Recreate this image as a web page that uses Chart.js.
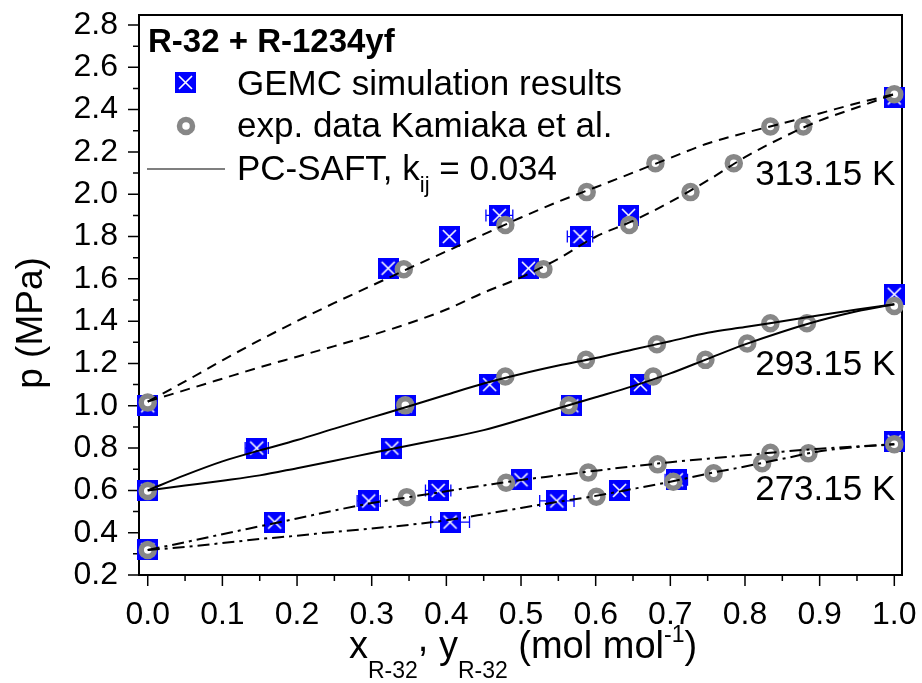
<!DOCTYPE html>
<html>
<head>
<meta charset="utf-8">
<script src="https://cdn.jsdelivr.net/npm/chart.js@4.4.0/dist/chart.umd.min.js"></script>
<style>
  html, body { margin: 0; padding: 0; background: #fff; }
  canvas { display: block; }
</style>
</head>
<body>
<canvas id="vleChart" width="922" height="683"></canvas>
<script>
/* ===== DATA ===== */
// composition grid of the PC-SAFT curves (mol/mol R-32)
const composition = [0, 0.05, 0.1, 0.15, 0.2, 0.25, 0.3, 0.35, 0.4, 0.45, 0.5,
                     0.55, 0.6, 0.65, 0.7, 0.75, 0.8, 0.85, 0.9, 0.95, 1.0];

// PC-SAFT, kij = 0.034 (MPa)
const bubble313 = [1.02, 1.115, 1.215, 1.31, 1.40, 1.486, 1.568, 1.65, 1.73, 1.81, 1.89,
                   1.965, 2.033, 2.102, 2.172, 2.24, 2.29, 2.335, 2.382, 2.43, 2.473];
const dew313 = [1.02, 1.074, 1.128, 1.182, 1.232, 1.282, 1.334, 1.39, 1.455, 1.535, 1.607,
                1.695, 1.799, 1.874, 1.964, 2.065, 2.175, 2.268, 2.348, 2.41, 2.473];
const bubble293 = [0.6, 0.672, 0.737, 0.789, 0.838, 0.892, 0.945, 0.998, 1.052, 1.105, 1.15,
                   1.19, 1.226, 1.266, 1.305, 1.345, 1.372, 1.40, 1.428, 1.455, 1.48];
const dew293 = [0.6, 0.623, 0.646, 0.671, 0.705, 0.74, 0.777, 0.812, 0.847, 0.885, 0.935,
                0.988, 1.04, 1.093, 1.153, 1.222, 1.29, 1.35, 1.403, 1.447, 1.48];
const bubble273 = [0.318, 0.355, 0.393, 0.43, 0.467, 0.505, 0.54, 0.568, 0.596, 0.623, 0.649,
                   0.671, 0.693, 0.714, 0.733, 0.75, 0.766, 0.783, 0.797, 0.808, 0.818];
const dew273 = [0.318, 0.333, 0.351, 0.37, 0.386, 0.404, 0.42, 0.437, 0.459, 0.487, 0.517,
                0.546, 0.574, 0.607, 0.641, 0.679, 0.713, 0.749, 0.785, 0.805, 0.818];

// GEMC simulation results (313.15 K, 293.15 K, 273.15 K)
const gemcX = [0, 0.322, 0.51, 0.404, 0.579, 0.471, 0.644, 1.0,
               0, 0.146, 0.327, 0.345, 0.568, 0.458, 0.66, 1.0,
               0, 0.17, 0.405, 0.296, 0.548, 0.389, 0.632, 0.5, 0.708, 1.0];
const gemcP = [1.0, 1.65, 1.65, 1.8, 1.8, 1.9, 1.9, 2.455,
               0.6, 0.8, 0.8, 1.0, 1.0, 1.1, 1.1, 1.527,
               0.32, 0.45, 0.45, 0.55, 0.55, 0.6, 0.6, 0.65, 0.65, 0.83];
const gemcErr = [0, 0.005, 0.005, 0.012, 0.017, 0.018, 0.01, 0,
                 0, 0.0155, 0.008, 0.008, 0.006, 0.012, 0.008, 0,
                 0, 0.008, 0.026, 0.0155, 0.023, 0.017, 0.008, 0.012, 0.015, 0];

// exp. data Kamiaka et al.
const expX = [0, 0.343, 0.53, 0.479, 0.645, 0.588, 0.727, 0.68, 0.785, 0.834, 0.878, 1.0,
              0, 0.345, 0.564, 0.479, 0.677, 0.587, 0.747, 0.682, 0.803, 0.834, 0.883, 1.0,
              0, 0.347, 0.601, 0.48, 0.704, 0.59, 0.758, 0.683, 0.823, 0.834, 0.885, 1.0];
const expP = [1.015, 1.645, 1.645, 1.855, 1.855, 2.01, 2.01, 2.147, 2.147, 2.32, 2.32, 2.473,
              0.597, 1.002, 1.002, 1.138, 1.138, 1.217, 1.217, 1.291, 1.294, 1.39, 1.39, 1.472,
              0.318, 0.568, 0.57, 0.636, 0.641, 0.684, 0.681, 0.723, 0.728, 0.778, 0.775, 0.818];

// axis ticks
const xTicks = [0, 0.1, 0.2, 0.3, 0.4, 0.5, 0.6, 0.7, 0.8, 0.9, 1.0];
const yTicks = [0.2, 0.4, 0.6, 0.8, 1.0, 1.2, 1.4, 1.6, 1.8, 2.0, 2.2, 2.4, 2.6, 2.8];

// isotherm labels
const tempLabels = ["313.15 K", "293.15 K", "273.15 K"];
const tempLabelP = [2.044, 1.146, 0.555];

/* ===== HELPERS ===== */
const FONT = '"Liberation Sans", Arial, sans-serif';
const toPoints = (xs, ys) => xs.map((v, i) => ({x: v, y: ys[i]}));
const midpoints = arr => arr.slice(1).map((v, i) => (v + arr[i]) / 2);

function gemcSymbol(size) {
    const c = document.createElement("canvas");
    c.width = size; c.height = size;
    const g = c.getContext("2d");
    g.fillStyle = "#0000ff";
    g.fillRect(0, 0, size, size);
    g.strokeStyle = "#ffffff";
    g.lineWidth = 1.6;
    g.beginPath();
    g.moveTo(4, 4); g.lineTo(size - 4, size - 4);
    g.moveTo(size - 4, 4); g.lineTo(4, size - 4);
    g.stroke();
    return c;
}
const squareMark = gemcSymbol(21);

// text with sub/superscripts: [text, size, dy]
function drawRich(ctx, parts, x, y, align) {
    let total = 0;
    parts.forEach(p => { ctx.font = p[1] + "px " + FONT; total += ctx.measureText(p[0]).width; });
    let cx = align === "center" ? x - total / 2 : x;
    ctx.textAlign = "left";
    parts.forEach(p => {
        ctx.font = p[1] + "px " + FONT;
        ctx.fillText(p[0], cx, y + p[2]);
        cx += ctx.measureText(p[0]).width;
    });
}

/* ===== FRAME, TICKS, ERROR BARS, TEXT ===== */
const decorations = {
    id: "decorations",
    beforeDatasetsDraw(chart) {
        const {ctx, chartArea: a, scales: {x, y}} = chart;
        ctx.save();
        ctx.strokeStyle = "#000";
        ctx.lineWidth = 2;
        ctx.strokeRect(a.left, a.top, a.right - a.left, a.bottom - a.top);

        ctx.lineWidth = 1.5;
        ctx.beginPath();
        yTicks.forEach(v => { const p = y.getPixelForValue(v); ctx.moveTo(a.left, p); ctx.lineTo(a.left - 11, p); });
        midpoints(yTicks).forEach(v => { const p = y.getPixelForValue(v); ctx.moveTo(a.left, p); ctx.lineTo(a.left - 6, p); });
        xTicks.forEach(v => { const p = x.getPixelForValue(v); ctx.moveTo(p, a.bottom); ctx.lineTo(p, a.bottom + 11); });
        midpoints(xTicks).forEach(v => { const p = x.getPixelForValue(v); ctx.moveTo(p, a.bottom); ctx.lineTo(p, a.bottom + 6); });
        ctx.stroke();

        // horizontal error bars of the simulation points
        ctx.strokeStyle = "#0000ff";
        ctx.lineWidth = 1.3;
        ctx.beginPath();
        gemcX.forEach((v, i) => {
            const e = gemcErr[i];
            if (!e) return;
            const py = y.getPixelForValue(gemcP[i]);
            const x0 = x.getPixelForValue(v - e), x1 = x.getPixelForValue(v + e);
            ctx.moveTo(x0, py); ctx.lineTo(x1, py);
            ctx.moveTo(x0, py - 6); ctx.lineTo(x0, py + 6);
            ctx.moveTo(x1, py - 6); ctx.lineTo(x1, py + 6);
        });
        ctx.stroke();
        ctx.restore();
    },
    afterDraw(chart) {
        const {ctx, scales: {x, y}} = chart;
        ctx.save();
        ctx.fillStyle = "#000";
        ctx.textBaseline = "alphabetic";

        // isotherm labels
        ctx.font = "35px " + FONT;
        ctx.textAlign = "right";
        tempLabels.forEach((t, i) => ctx.fillText(t, x.getPixelForValue(1.0) + 1, y.getPixelForValue(tempLabelP[i])));

        // legend
        ctx.textAlign = "left";
        ctx.font = "bold 33px " + FONT;
        ctx.fillText("R-32 + R-1234yf", 148, 52);
        ctx.drawImage(squareMark, 175, 72);
        ctx.font = "35px " + FONT;
        ctx.fillText("GEMC simulation results", 237, 95);

        ctx.beginPath();
        ctx.arc(186, 126, 6.5, 0, Math.PI * 2);
        ctx.fillStyle = "#fff";
        ctx.fill();
        ctx.lineWidth = 5.5;
        ctx.strokeStyle = "#878787";
        ctx.stroke();
        ctx.fillStyle = "#000";
        ctx.fillText("exp. data Kamiaka et al.", 237, 137);

        ctx.beginPath();
        ctx.moveTo(147, 169); ctx.lineTo(225, 169);
        ctx.lineWidth = 1.5;
        ctx.strokeStyle = "#555";
        ctx.stroke();
        drawRich(ctx, [["PC-SAFT, k", 35, 0], ["ij", 22, 12], [" = 0.034", 35, 0]], 237, 180, "left");

        // axis titles
        drawRich(ctx, [["x", 38, 0], ["R-32", 23, 20], [",", 38, -7], [" y", 38, 0], ["R-32", 23, 20],
                       [" (mol mol", 38, 0], ["-1", 23, -16], [")", 38, 0]], 523, 658, "center");

        ctx.translate(42, 323);
        ctx.rotate(-Math.PI / 2);
        ctx.font = "37px " + FONT;
        ctx.textAlign = "center";
        ctx.fillText("p (MPa)", 0, 0);
        ctx.restore();
    }
};

/* ===== CHART ===== */
const curveStyle = (dash) => ({
    type: "line",
    borderColor: "#000",
    borderWidth: 2,
    borderDash: dash,
    pointRadius: 0,
    cubicInterpolationMode: "monotone",
    fill: false,
    order: 0
});
const dashed = [10, 7], solid = [], dashDot = [12, 5, 3, 5];

const vtx = document.getElementById("vleChart");
new Chart(vtx.getContext("2d"), {
    type: "scatter",
    data: {
        datasets: [
            {...curveStyle(dashed), data: toPoints(composition, bubble313)},
            {...curveStyle(dashed), data: toPoints(composition, dew313)},
            {...curveStyle(solid), data: toPoints(composition, bubble293)},
            {...curveStyle(solid), data: toPoints(composition, dew293)},
            {...curveStyle(dashDot), data: toPoints(composition, bubble273)},
            {...curveStyle(dashDot), data: toPoints(composition, dew273)},
            {
                data: toPoints(expX, expP),
                pointStyle: "circle",
                pointRadius: 6.5,
                borderWidth: 5.5,
                borderColor: "#878787",
                backgroundColor: "#fff",
                clip: false,
                order: 1
            },
            {
                data: toPoints(gemcX, gemcP),
                pointStyle: squareMark,
                pointRadius: 10,
                clip: false,
                order: 2
            }
        ]
    },
    options: {
        responsive: false,
        animation: false,
        events: [],
        layout: {padding: {top: 15, right: 20, left: 0, bottom: 0}},
        plugins: {legend: {display: false}, tooltip: {enabled: false}},
        scales: {
            x: {
                type: "linear",
                min: -0.0117,
                max: 1.0103,
                afterBuildTicks: s => { s.ticks = xTicks.map(v => ({value: v})); },
                afterFit: s => { s.height = 108; s.paddingLeft = 0; s.paddingRight = 0; },
                grid: {display: false, drawTicks: false},
                border: {display: false},
                ticks: {
                    padding: 21, color: "#000", autoSkip: false, maxRotation: 0,
                    font: {family: FONT, size: 32},
                    callback: v => v.toFixed(1)
                }
            },
            y: {
                min: 0.2,
                max: 2.8473,
                afterBuildTicks: s => { s.ticks = yTicks.map(v => ({value: v})); },
                afterFit: s => { s.width = 139; s.paddingTop = 0; s.paddingBottom = 0; },
                grid: {display: false, drawTicks: false},
                border: {display: false},
                ticks: {
                    padding: 21, color: "#000", autoSkip: false,
                    font: {family: FONT, size: 32},
                    callback: v => v.toFixed(1)
                }
            }
        }
    },
    plugins: [decorations]
});
</script>
</body>
</html>
